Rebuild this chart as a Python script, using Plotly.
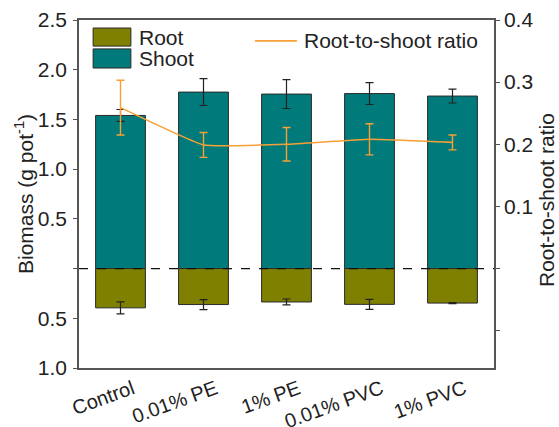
import plotly.graph_objects as go

categories = ["Control", "0.01% PE", "1% PE", "0.01% PVC", "1% PVC"]
shoot = [1.54, 1.775, 1.755, 1.76, 1.735]
shoot_err = [0.06, 0.135, 0.145, 0.11, 0.07]
root = [0.395, 0.362, 0.336, 0.36, 0.347]
root_err = [0.06, 0.05, 0.03, 0.05, 0.006]
ratio = [0.259, 0.199, 0.200, 0.208, 0.203]
ratio_err = [0.044, 0.02, 0.027, 0.025, 0.012]

left_ticks = [-1.0, -0.5, 0, 0.5, 1.0, 1.5, 2.0, 2.5]
left_labels = ["1.0", "0.5", "", "0.5", "1.0", "1.5", "2.0", "2.5"]
right_ticks = [-0.1, 0, 0.1, 0.2, 0.3, 0.4]
right_labels = ["", "", "0.1", "0.2", "0.3", "0.4"]

TEAL = "#007a7a"
OLIVE = "#7f7f00"
ORANGE = "#f7a035"
EDGE = "#2a2a2a"
AXC = "#555555"
FONT = "Liberation Sans, Arial, sans-serif"
FS = 21

fig = go.Figure()
fig.add_bar(x=categories, y=shoot, name="Shoot", width=0.6,
            marker=dict(color=TEAL, line=dict(color=EDGE, width=1)),
            error_y=dict(type="data", array=shoot_err, color="#222", thickness=1.2, width=4))
fig.add_bar(x=categories, y=[-v for v in root], name="Root", width=0.6,
            marker=dict(color=OLIVE, line=dict(color=EDGE, width=1)),
            error_y=dict(type="data", array=root_err, color="#222", thickness=1.2, width=4))
fig.add_scatter(x=categories, y=ratio, yaxis="y2", mode="lines", name="Root-to-shoot ratio",
                line=dict(color=ORANGE, width=1.6, shape="spline", smoothing=0.3),
                error_y=dict(type="data", array=ratio_err, color=ORANGE, thickness=1.4, width=4))

fig.update_layout(
    width=559, height=427,
    margin=dict(l=79, r=65, t=20, b=59),
    barmode="relative",
    showlegend=False,
    plot_bgcolor="white", paper_bgcolor="white",
    font=dict(family=FONT, size=FS, color="#222"),
    xaxis=dict(showline=True, linecolor=AXC, linewidth=1.5, mirror=True, ticks="",
               tickangle=-20, tickfont=dict(size=20), range=[-0.5, 4.5], automargin=False,
               ticklabelshift=12, ticklabelstandoff=0),
    yaxis=dict(range=[-1.0, 2.5], tickvals=left_ticks, ticktext=left_labels,
               showline=True, linecolor=AXC, linewidth=1.5, ticks="outside", ticklen=4,
               tickcolor=AXC, showgrid=False, zeroline=False, automargin=False, ticklabelstandoff=2),
    yaxis2=dict(range=[-0.16, 0.4], overlaying="y", side="right", tickvals=right_ticks,
                ticktext=right_labels, showline=True, linecolor=AXC, linewidth=1.5,
                ticks="outside", ticklen=4, tickcolor=AXC, showgrid=False, zeroline=False,
                automargin=False),
)

fig.add_shape(type="line", xref="paper", yref="y", x0=0, x1=1, y0=0, y1=0,
              line=dict(color="#111", width=1.2, dash="dash"))

# axis titles
fig.add_annotation(xref="paper", yref="paper", x=-0.1325, y=0.5, text="Biomass (g pot<sup>-1</sup>)",
                   showarrow=False, textangle=-90, xanchor="center", yanchor="middle",
                   font=dict(size=FS))
fig.add_annotation(xref="paper", yref="paper", x=1.128, y=0.483, text="Root-to-shoot ratio",
                   showarrow=False, textangle=-90, xanchor="center", yanchor="middle",
                   font=dict(size=FS))

# legend
fig.add_shape(type="rect", xref="paper", yref="paper", x0=0.034, x1=0.125, y0=0.925, y1=0.977,
              fillcolor=OLIVE, line=dict(color=EDGE, width=1))
fig.add_shape(type="rect", xref="paper", yref="paper", x0=0.034, x1=0.125, y0=0.862, y1=0.917,
              fillcolor=TEAL, line=dict(color=EDGE, width=1))
fig.add_annotation(xref="paper", yref="paper", x=0.139, y=0.951, text="Root", showarrow=False,
                   xanchor="left", yanchor="middle", font=dict(size=FS))
fig.add_annotation(xref="paper", yref="paper", x=0.139, y=0.888, text="Shoot", showarrow=False,
                   xanchor="left", yanchor="middle", font=dict(size=FS))
fig.add_shape(type="line", xref="paper", yref="paper", x0=0.424, x1=0.525, y0=0.94, y1=0.94,
              line=dict(color=ORANGE, width=1.6))
fig.add_annotation(xref="paper", yref="paper", x=0.538, y=0.94, text="Root-to-shoot ratio",
                   showarrow=False, xanchor="left", yanchor="middle", font=dict(size=FS))

fig.write_html("out.html", config={"displayModeBar": False},
               post_script="document.body.style.margin='0';document.body.style.overflow='hidden';")
